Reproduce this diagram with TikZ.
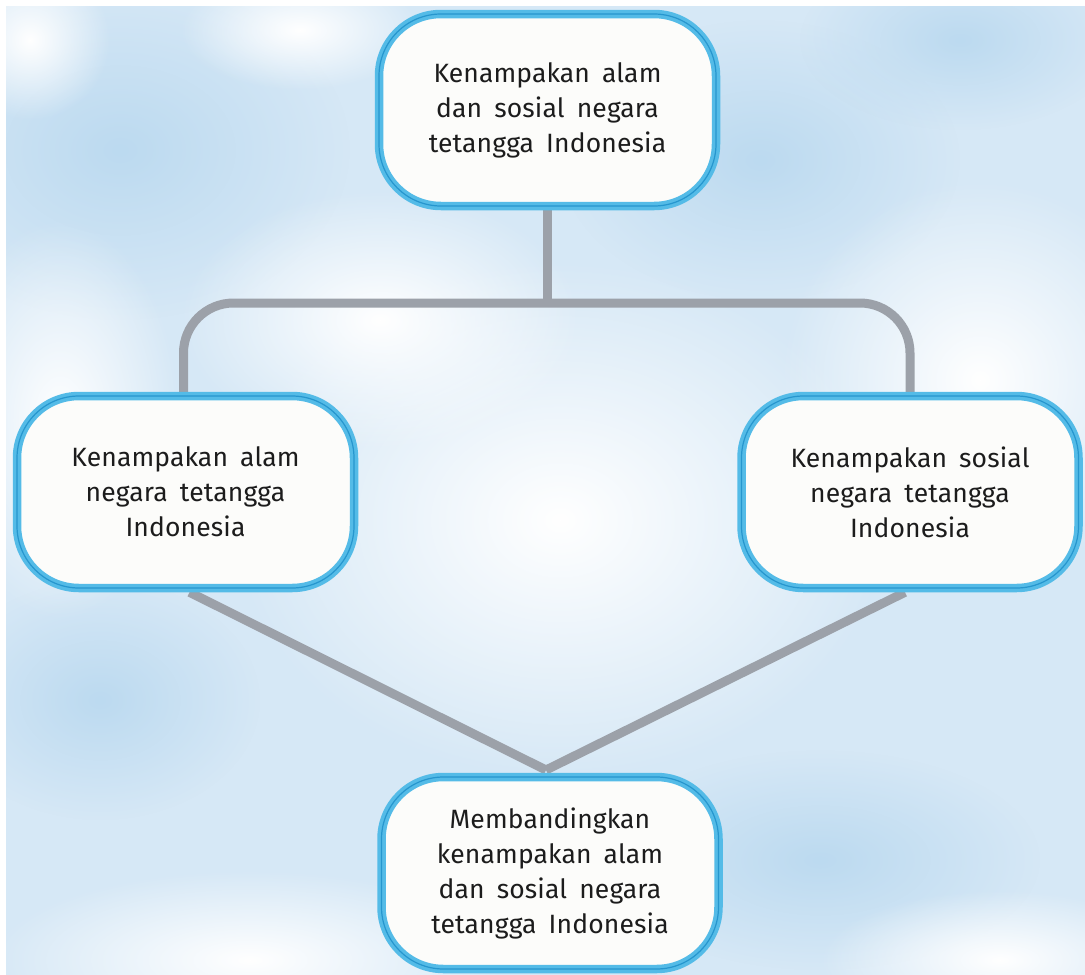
\documentclass[tikz,border=0pt]{standalone}
\usepackage{fontspec}
\setmainfont{Fira Sans}[LetterSpace=0.5,WordSpace=1.7]
\usetikzlibrary{fadings}
\pgfdeclarelayer{sky}
\pgfdeclarelayer{links}
\pgfsetlayers{sky,links,main}
\tikzfading[name=softblob, inner color=transparent!0, outer color=transparent!100]
\definecolor{sky}{RGB}{214,232,246}
\definecolor{skydeep}{RGB}{188,218,240}
\definecolor{boxblue}{RGB}{84,187,231}
\definecolor{boxedge}{RGB}{38,150,206}
\definecolor{connGray}{RGB}{156,161,169}
\definecolor{boxfill}{RGB}{252,252,250}
\definecolor{ink}{RGB}{28,28,28}
\tikzset{
  topic/.style={draw=boxblue, line width=8.5pt, fill=boxfill, rounded corners=62pt,
    minimum width=337pt, minimum height=192pt, inner sep=0pt, align=center,
    text=ink, font=\fontsize{26.5}{35}\selectfont,
    postaction={draw=boxedge, line width=1.2pt, rounded corners=62pt}},
  conn/.style={draw=connGray, line width=9pt},
  cloud/.style={fill=white, path fading=softblob},
  deep/.style={fill=skydeep, path fading=softblob}
}
\begin{document}
\begin{tikzpicture}[x=1pt,y=-1pt]
\useasboundingbox (0,0) rectangle (1085,975);
% nodes
\node[topic] (top) at (547.5,110) {Kenampakan alam\\dan sosial negara\\tetangga Indonesia};
\node[topic] (left) at (185.5,492) {Kenampakan alam\\negara tetangga\\Indonesia};
\node[topic] (right) at (910,492) {Kenampakan sosial\\negara tetangga\\Indonesia};
\node[topic] (bottom) at (550,873) {Membandingkan\\kenampakan alam\\dan sosial negara\\tetangga Indonesia};
\coordinate (bar) at (547.5,303);
\coordinate (meet) at (546,770);
% connectors
\begin{pgfonlayer}{links}
\draw[conn] (top.south) -- (bar);
\draw[conn, rounded corners=50pt] ([xshift=-2pt]left.north) |- (bar) -| (right.north);
\draw[conn] ([xshift=4pt]left.south) -- (meet);
\draw[conn] ([xshift=-5pt]right.south) -- (meet);
\end{pgfonlayer}
% sky background
\begin{pgfonlayer}{sky}
\fill[sky] (0,0) rectangle (1085,975);
\begin{scope}
\clip (6,6) rectangle (1085,975);
\fill[deep] (120,150) ellipse (230 and 170);
\fill[deep] (760,160) ellipse (200 and 140);
\fill[deep] (960,40) ellipse (160 and 90);
\fill[deep] (100,700) ellipse (160 and 120);
\fill[deep] (820,860) ellipse (220 and 110);
\fill[cloud] (560,520) ellipse (330 and 260);
\fill[cloud] (380,320) ellipse (200 and 130);
\fill[cloud] (980,380) ellipse (200 and 200);
\fill[cloud] (60,420) ellipse (120 and 200);
\fill[cloud] (250,960) ellipse (260 and 90);
\fill[cloud] (1000,960) ellipse (180 and 70);
\fill[cloud] (300,30) ellipse (120 and 60);
\fill[cloud] (30,40) ellipse (80 and 80);
\end{scope}
\fill[white] (0,0) rectangle (1085,6);
\fill[white] (0,0) rectangle (6,975);
\end{pgfonlayer}
\end{tikzpicture}
\end{document}
